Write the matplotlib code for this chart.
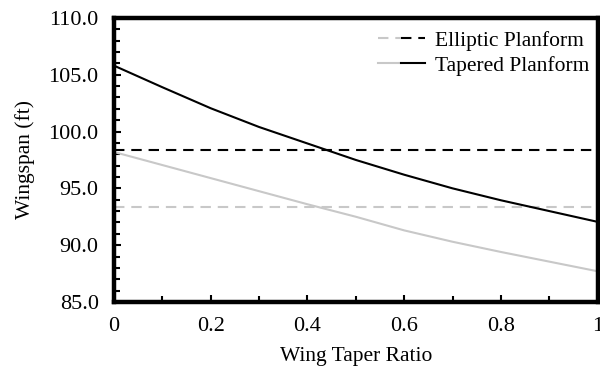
import numpy as np
import matplotlib
matplotlib.use("Agg")
import matplotlib.pyplot as plt
from matplotlib.legend_handler import HandlerTuple
from matplotlib.ticker import MultipleLocator, FormatStrFormatter

plt.rcParams['font.family'] = ['Liberation Serif', 'DejaVu Serif']

# Data
taper = [0.0, 0.1, 0.2, 0.3, 0.4, 0.5, 0.6, 0.7, 0.8, 0.9, 1.0]
span_tapered_1 = [105.8, 103.9, 102.05, 100.4, 98.95, 97.5, 96.2, 95.0, 93.95, 93.0, 92.05]
span_tapered_2 = [98.2, 97.05, 95.9, 94.75, 93.6, 92.5, 91.3, 90.3, 89.4, 88.55, 87.7]
span_elliptic_1 = 98.38
span_elliptic_2 = 93.33

gray = '#c8c8c8'

fig = plt.figure(figsize=(6.0, 3.66), dpi=100)
ax = fig.add_axes([0.19, 0.175, 0.806, 0.776])

dash = (5, 3.3)
e2, = ax.plot([0, 1], [span_elliptic_2] * 2, color=gray, lw=1.5, dashes=dash)
t2, = ax.plot(taper, span_tapered_2, color=gray, lw=1.5)
e1, = ax.plot([0, 1], [span_elliptic_1] * 2, color='black', lw=1.5, dashes=dash)
t1, = ax.plot(taper, span_tapered_1, color='black', lw=1.5)

ax.set_xlim(0, 1)
ax.set_ylim(85, 110)
ax.xaxis.set_minor_locator(MultipleLocator(0.1))
ax.yaxis.set_major_locator(MultipleLocator(5))
ax.yaxis.set_minor_locator(MultipleLocator(1))
ax.yaxis.set_major_formatter(FormatStrFormatter('%.1f'))
ax.set_xticks([0, 0.2, 0.4, 0.6, 0.8, 1.0])
ax.set_xticklabels(['0', '0.2', '0.4', '0.6', '0.8', '1'])

for s in ax.spines.values():
    s.set_linewidth(3.2)
ax.tick_params(which='both', direction='in', width=1.5, labelsize=16, pad=11,
               top=False, right=False)
ax.tick_params(which='major', length=5)
ax.tick_params(which='minor', length=4)

ax.set_xlabel('Wing Taper Ratio', fontsize=15.5, labelpad=8)
ax.set_ylabel('Wingspan (ft)', fontsize=15.5, labelpad=10)

ax.legend([(e2, e1), (t2, t1)], ['Elliptic Planform', 'Tapered Planform'],
          handler_map={tuple: HandlerTuple(ndivide=None, pad=0)},
          loc='upper right', bbox_to_anchor=(1.0, 0.985), frameon=False,
          fontsize=15.5, handlelength=2.2, handletextpad=0.45,
          labelspacing=0.22, borderaxespad=0.2, borderpad=0.2)

fig.savefig('out.png', dpi=100)
